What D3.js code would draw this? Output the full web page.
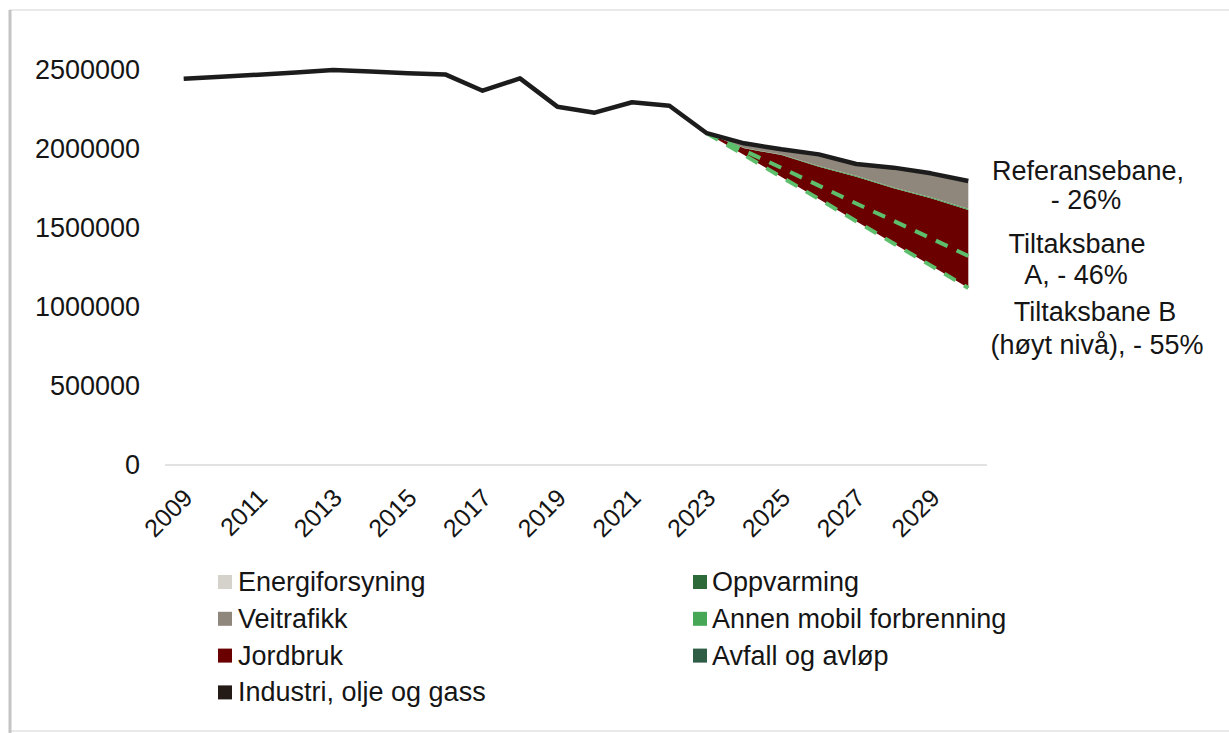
<!DOCTYPE html>
<html>
<head>
<meta charset="utf-8">
<script src="https://cdn.jsdelivr.net/npm/d3@7"></script>
<style>
  body { margin: 0; background: #fff; }
  svg text { font-family: "Liberation Sans", Arial, sans-serif; fill: #151515; }
</style>
</head>
<body>
<div id="chart"></div>
<script>
// years on the category axis
const years = d3.range(2009, 2031)
const tickYears = [2009, 2011, 2013, 2015, 2017, 2019, 2021, 2023, 2025, 2027, 2029]
const yTicks = [0, 500000, 1000000, 1500000, 2000000, 2500000]

// historical + referansebane (black line)
const totalUtslipp = [2445000, 2458000, 2470000, 2484000, 2500000, 2490000, 2480000, 2472000,
  2369000, 2447000, 2268000, 2230000, 2296000, 2274000, 2100000,
  2036000, 1998000, 1966000, 1905000, 1882000, 1846000, 1797000]

// projection period
const projYears = [2023, 2024, 2025, 2026, 2027, 2028, 2029, 2030]
const tiltaksbaneB = [2100000, 1962000, 1822000, 1684000, 1543000, 1402000, 1262000, 1120000]
const tiltaksbaneA = [2100000, 1990000, 1880000, 1768000, 1655000, 1545000, 1435000, 1323000]
// sector reductions stacked on top of tiltaksbane B
const jordbruk = [0, 42000, 140000, 204000, 282000, 349000, 426000, 494000]
const annenMobil = [0, 2000, 3000, 4000, 5000, 6000, 7000, 8000]
const veitrafikk = [0, 26000, 28000, 68000, 69000, 118000, 144000, 167000]
const energiforsyning = [0, 4000, 5000, 6000, 6000, 7000, 7000, 8000]

const legendLeft = ['Energiforsyning', 'Veitrafikk', 'Jordbruk', 'Industri, olje og gass']
const legendRight = ['Oppvarming', 'Annen mobil forbrenning', 'Avfall og avløp']
const colors = {
  'Energiforsyning': '#d5d2cc',
  'Veitrafikk': '#8f867c',
  'Jordbruk': '#6a0000',
  'Industri, olje og gass': '#241a16',
  'Oppvarming': '#2d6a3a',
  'Annen mobil forbrenning': '#46a857',
  'Avfall og avløp': '#2f5c45'
}

const W = 1229, H = 733
let svg = d3.select('#chart').append('svg').attr('width', W).attr('height', H)

// frame of the pasted picture
svg.append('rect').attr('x', 10).attr('y', 10).attr('width', W).attr('height', 721)
  .attr('fill', '#fff').attr('stroke', '#e2e2e2').attr('stroke-width', 1.5)
svg.append('line').attr('x1', 10).attr('x2', 10).attr('y1', 10).attr('y2', 733)
  .attr('stroke', '#c4c4c4').attr('stroke-width', 3)

let x = d3.scaleBand().domain(years).range([165, 987])
let xc = d => x(d) + x.bandwidth() / 2
let y = d3.scaleLinear().domain([0, 2500000]).range([465, 70])

// baseline
svg.append('line').attr('x1', 165).attr('x2', 987).attr('y1', y(0)).attr('y2', y(0))
  .attr('stroke', '#d9d9d9').attr('stroke-width', 1.5)

// y labels
svg.append('g').selectAll('text').data(yTicks).join('text')
  .attr('x', 140).attr('y', d => y(d))
  .attr('text-anchor', 'end').attr('dominant-baseline', 'central')
  .style('font-size', '27px')
  .text(d => d)

// x labels
svg.append('g').selectAll('text').data(tickYears).join('text')
  .attr('transform', d => 'translate(' + (xc(d) + 4) + ',493) rotate(-45)')
  .attr('text-anchor', 'end').attr('dominant-baseline', 'central')
  .style('font-size', '25px')
  .text(d => d)

// stacked sector areas
let rows = projYears.map((yr, i) => ({
  year: yr, base: tiltaksbaneB[i],
  'Jordbruk': jordbruk[i], 'Annen mobil forbrenning': annenMobil[i],
  'Veitrafikk': veitrafikk[i], 'Energiforsyning': energiforsyning[i]
}))
let keys = ['Jordbruk', 'Annen mobil forbrenning', 'Veitrafikk', 'Energiforsyning']
let series = d3.stack().keys(keys)(rows)
let area = d3.area()
  .x(d => xc(d.data.year))
  .y0(d => y(d.data.base + d[0]))
  .y1(d => y(d.data.base + d[1]))
svg.append('g').selectAll('path').data(series).join('path')
  .attr('d', area)
  .attr('fill', d => colors[d.key])

// dashed tiltaksbaner
let projLine = d3.line().x((d, i) => xc(projYears[i])).y(d => y(d))
;[tiltaksbaneA, tiltaksbaneB].forEach(s => {
  svg.append('path').attr('d', projLine(s))
    .attr('fill', 'none').attr('stroke', '#5dbf6c').attr('stroke-width', 4)
    .attr('stroke-dasharray', '13,10')
})

// black total line
let line = d3.line().x((d, i) => xc(years[i])).y(d => y(d))
svg.append('path').attr('d', line(totalUtslipp))
  .attr('fill', 'none').attr('stroke', '#1c1c1c').attr('stroke-width', 4.5)
  .attr('stroke-linejoin', 'round')

// annotations
let notes = [
  ['Referansebane,', 1088, 171], ['- 26%', 1086, 200],
  ['Tiltaksbane', 1077, 244], ['A, - 46%', 1076, 275],
  ['Tiltaksbane B', 1095, 312], ['(høyt nivå), - 55%', 1097, 345]
]
svg.append('g').selectAll('text').data(notes).join('text')
  .attr('x', d => d[1]).attr('y', d => d[2])
  .attr('text-anchor', 'middle').attr('dominant-baseline', 'central')
  .style('font-size', '27px')
  .text(d => d[0])

// legend
let leg = svg.append('g')
function legendCol(items, sx, tx) {
  items.forEach((name, i) => {
    let cy = 582 + i * 36.8
    leg.append('rect').attr('x', sx).attr('y', cy - 7).attr('width', 14).attr('height', 14)
      .attr('fill', colors[name])
    leg.append('text').attr('x', tx).attr('y', cy)
      .attr('dominant-baseline', 'central').style('font-size', '27px')
      .text(name)
  })
}
legendCol(legendLeft, 218, 238)
legendCol(legendRight, 693, 712)
</script>
</body>
</html>
